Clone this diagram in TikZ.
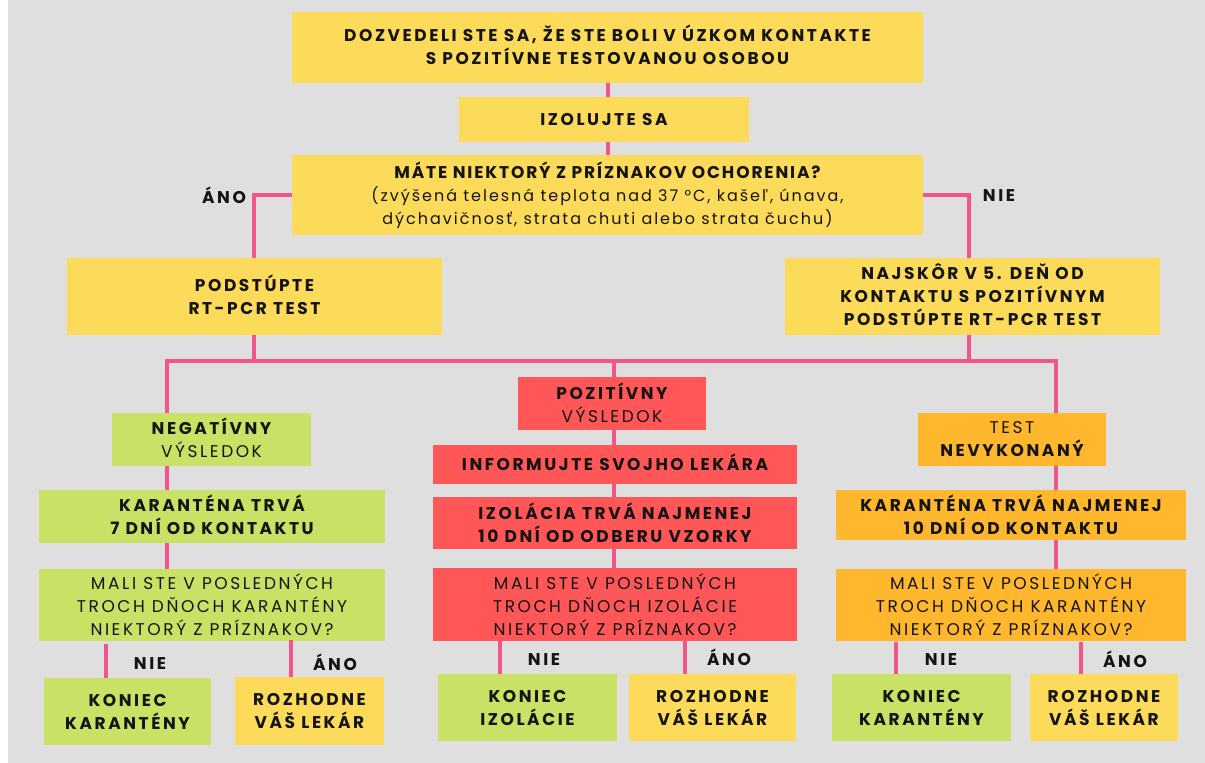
\documentclass[tikz,border=0pt]{standalone}
\usepackage{fontspec}
\setmainfont[LetterSpace=15]{Poppins}
\newcommand{\smalltext}{\addfontfeature{LetterSpace=12.4}\fontsize{16}{23}\selectfont}
\newcommand{\headtext}{\addfontfeature{LetterSpace=11}}
\definecolor{bggray}{HTML}{DFDFDF}
\definecolor{boxyellow}{HTML}{FDDB5A}
\definecolor{boxgreen}{HTML}{C9E165}
\definecolor{boxred}{HTML}{FF5757}
\definecolor{boxorange}{HTML}{FFB72E}
\definecolor{linkpink}{HTML}{F1558C}
\definecolor{ink}{HTML}{141414}
\tikzset{
  flowbox/.style={inner sep=0pt,align=center,text=ink,font=\fontsize{17}{23}\selectfont},
  link/.style={draw=linkpink,line width=3.2pt},
  answer/.style={inner sep=0pt,text=ink,font=\fontsize{17}{23}\selectfont\bfseries},
}
% name, x1, y1, x2, y2, colour, text
\newcommand{\pbox}[7]{%
  \node[flowbox,fill=#6,minimum width=#4pt-#2pt,minimum height=#5pt-#3pt] (#1) at ({(#2+#4)/2},{(#3+#5)/2}) {#7};
}
\begin{document}
\begin{tikzpicture}[x=1pt,y=-1pt]
\useasboundingbox (0,0) rectangle (1205,763);
\fill[white] (0,0) rectangle (1205,763);
\fill[bggray] (8,0) rectangle (1205,763);

\pbox{top}{292}{12}{923}{83}{boxyellow}{\bfseries DOZVEDELI STE SA, ŽE STE BOLI V ÚZKOM KONTAKTE\\\bfseries S POZITÍVNE TESTOVANOU OSOBOU\\[-17pt]}
\pbox{iso}{459}{97}{749}{142}{boxyellow}{\bfseries IZOLUJTE SA}
\pbox{sym}{292}{155}{923}{235}{boxyellow}{\headtext\bfseries MÁTE NIEKTORÝ Z PRÍZNAKOV OCHORENIA?\\\smalltext (zvýšená telesná teplota nad 37 °C, kašeľ, únava,\\\smalltext dýchavičnosť, strata chuti alebo strata čuchu)}
\pbox{pcrA}{67}{258}{442}{335}{boxyellow}{\bfseries PODSTÚPTE\\\bfseries RT-PCR TEST\\[-19pt]}
\pbox{pcrB}{785}{258}{1160}{335}{boxyellow}{\bfseries NAJSKÔR V 5. DEŇ OD\\\bfseries KONTAKTU S POZITÍVNYM\\\bfseries PODSTÚPTE RT-PCR TEST\\[-19pt]}

\pbox{neg}{112}{413}{311}{466}{boxgreen}{\bfseries NEGATÍVNY\\VÝSLEDOK\\[-19pt]}
\pbox{negq}{39}{490}{385}{543}{boxgreen}{\bfseries KARANTÉNA TRVÁ\\\bfseries 7 DNÍ OD KONTAKTU\\[-19pt]}
\pbox{negm}{39}{569}{385}{641}{boxgreen}{MALI STE V POSLEDNÝCH\\TROCH DŇOCH KARANTÉNY\\NIEKTORÝ Z PRÍZNAKOV?}
\pbox{negk}{44}{678}{211}{745}{boxgreen}{\bfseries KONIEC\\\bfseries KARANTÉNY}
\pbox{negr}{235}{677}{384}{745}{boxyellow}{\bfseries ROZHODNE\\\bfseries VÁŠ LEKÁR}

\pbox{pos}{518}{377}{706}{430}{boxred}{\bfseries POZITÍVNY\\VÝSLEDOK\\[-21pt]}
\pbox{posi}{433}{445}{797}{484}{boxred}{\bfseries INFORMUJTE SVOJHO LEKÁRA\\[-19pt]}
\pbox{posq}{433}{497}{797}{549}{boxred}{\bfseries IZOLÁCIA TRVÁ NAJMENEJ\\\bfseries 10 DNÍ OD ODBERU VZORKY}
\pbox{posm}{433}{568}{797}{641}{boxred}{MALI STE V POSLEDNÝCH\\TROCH DŇOCH IZOLÁCIE\\NIEKTORÝ Z PRÍZNAKOV?}
\pbox{posk}{438}{674}{617}{741}{boxgreen}{\bfseries KONIEC\\\bfseries IZOLÁCIE}
\pbox{posr}{629}{674}{796}{741}{boxyellow}{\bfseries ROZHODNE\\\bfseries VÁŠ LEKÁR}

\pbox{non}{918}{413}{1106}{466}{boxorange}{TEST\\\bfseries NEVYKONANÝ}
\pbox{nonq}{836}{490}{1186}{540}{boxorange}{\bfseries KARANTÉNA TRVÁ NAJMENEJ\\\bfseries 10 DNÍ OD KONTAKTU}
\pbox{nonm}{836}{569}{1186}{641}{boxorange}{MALI STE V POSLEDNÝCH\\TROCH DŇOCH KARANTÉNY\\NIEKTORÝ Z PRÍZNAKOV?}
\pbox{nonk}{832}{674}{1011}{741}{boxgreen}{\bfseries KONIEC\\\bfseries KARANTÉNY}
\pbox{nonr}{1030}{674}{1178}{741}{boxyellow}{\bfseries ROZHODNE\\\bfseries VÁŠ LEKÁR}

\node[answer] (lA) at (224,195) {ÁNO};
\node[answer] (lB) at (999,196) {NIE};
\node[answer] (l1) at (150,664) {NIE};
\node[answer] (l2) at (335,662) {ÁNO};
\node[answer] (l3) at (544,660) {NIE};
\node[answer] (l4) at (729,657) {ÁNO};
\node[answer] (l5) at (941,660) {NIE};
\node[answer] (l6) at (1125,659) {ÁNO};

\coordinate (jA) at (254,361);
\coordinate (jB) at (969,361);
\coordinate (jL) at (167,361);
\coordinate (jC) at (614,361);
\coordinate (jR) at (1056,361);
\coordinate (c0) at (608,0);
\coordinate (y0) at (0,195);
\coordinate (n1) at (106,644);
\coordinate (n2) at (291,640);
\coordinate (n3) at (500,641);
\coordinate (n4) at (685,641);
\coordinate (n5) at (896,642);
\coordinate (n6) at (1081,642);

\draw[link] (top.south -| c0) -- (iso.north -| c0);
\draw[link] (iso.south -| c0) -- (sym.north -| c0);
\draw[link] (sym.west |- y0) -| (pcrA.north -| jA);
\draw[link] (sym.east |- y0) -| (pcrB.north -| jB);
\draw[link] (pcrA.south -| jA) -- (jA);
\draw[link] (pcrB.south -| jB) -- (jB);
\draw[link] (neg.north -| jL) -- (jL) -- (jR) -- (non.north -| jR);
\draw[link] (jC) -- (pos.north -| jC);
\draw[link] (neg.south -| jL) -- (negq.north -| jL);
\draw[link] (negq.south -| jL) -- (negm.north -| jL);
\draw[link] (pos.south -| jC) -- (posi.north -| jC);
\draw[link] (posi.south -| jC) -- (posq.north -| jC);
\draw[link] (posq.south -| jC) -- (posm.north -| jC);
\draw[link] (non.south -| jR) -- (nonq.north -| jR);
\draw[link] (nonq.south -| jR) -- (nonm.north -| jR);
\draw[link] (n1) -- (negk.north -| n1);
\draw[link] (n2) -- (negr.north -| n2);
\draw[link] (n3) -- (posk.north -| n3);
\draw[link] (n4) -- (posr.north -| n4);
\draw[link] (n5) -- (nonk.north -| n5);
\draw[link] (n6) -- (nonr.north -| n6);
\end{tikzpicture}
\end{document}
